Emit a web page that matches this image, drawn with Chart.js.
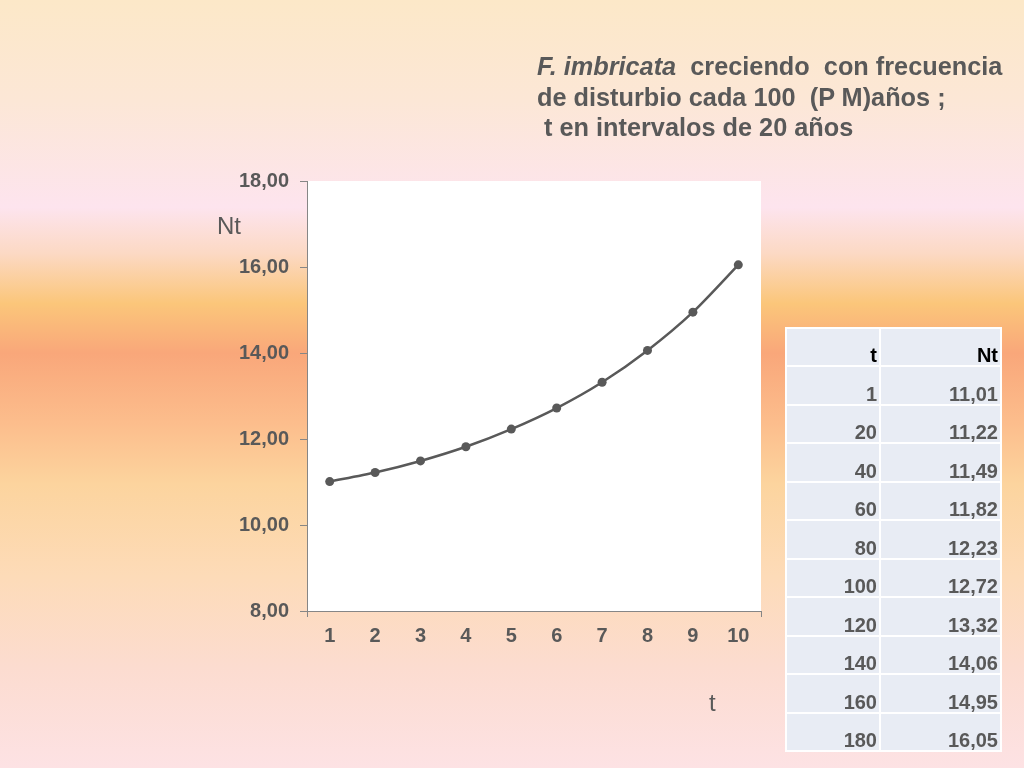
<!DOCTYPE html>
<html>
<head>
<meta charset="utf-8">
<script src="https://cdn.jsdelivr.net/npm/chart.js@4"></script>
<style>
  html, body { margin: 0; padding: 0; }
  body {
    width: 1024px; height: 768px; overflow: hidden; position: relative;
    font-family: "Liberation Sans", Arial, sans-serif;
    background: linear-gradient(to bottom,
      #fce8c8 0%, #fce7d6 13%, #fde4ee 27%, #fcd9c4 33%, #fbc67a 39.5%,
      #f9a77a 46%, #fcbd8c 55%, #fcd49e 63%, #fddbb8 75%, #fcdcd0 87%, #fde2e4 100%);
  }
  #chart { position: absolute; left: 0; top: 0; }
  #title {
    position: absolute; left: 537px; top: 51px; margin: 0;
    font: bold 25.3px "Liberation Sans", Arial, sans-serif; line-height: 30.5px;
    color: #595959; white-space: pre;
  }
  .axlabel { position: absolute; font: 24px "Liberation Sans", Arial, sans-serif; color: #595959; }
  #tbl {
    position: absolute; left: 785px; top: 327px; width: 217px; height: 425px;
    border-collapse: collapse; table-layout: fixed;
  }
  #tbl td {
    background: #e8ecf4; border: 2px solid #ffffff;
    text-align: right; vertical-align: bottom; padding: 0 2px 0 0;
    font: bold 20px "Liberation Sans", Arial, sans-serif; line-height: 19px;
    color: #595959; height: 34px;
  }
  #tbl tr.hd td { color: #000000; }
</style>
</head>
<body>
<canvas id="chart" width="1024" height="768"></canvas>
<div id="title"><i>F. imbricata</i>  creciendo  con frecuencia
de disturbio cada 100  (P M)años ;
 t en intervalos de 20 años</div>
<div class="axlabel" id="ylab" style="left:217px; top:212px;">Nt</div>
<div class="axlabel" id="xlab" style="left:709px; top:689px;">t</div>
<table id="tbl"></table>
<script>
const categories = ['1', '2', '3', '4', '5', '6', '7', '8', '9', '10'];
const ntValues = [11.01, 11.22, 11.49, 11.82, 12.23, 12.72, 13.32, 14.06, 14.95, 16.05];
const tableYears = [1, 20, 40, 60, 80, 100, 120, 140, 160, 180];
const tableHeaders = ['t', 'Nt'];
const yMin = 8, yMax = 18, yStep = 2;

const fmt = v => v.toFixed(2).replace('.', ',');

// table
const tbl = document.getElementById('tbl');
let html = '<tr class="hd"><td style="width:90px">' + tableHeaders[0] + '</td><td>' + tableHeaders[1] + '</td></tr>';
tableYears.forEach((t, i) => {
  html += '<tr><td>' + t + '</td><td>' + fmt(ntValues[i]) + '</td></tr>';
});
tbl.innerHTML = html;

const axisColor = '#868686';
const textColor = '#595959';

const plotBg = {
  id: 'plotBg',
  beforeDraw(chart) {
    const a = chart.chartArea, c = chart.ctx;
    c.save();
    c.fillStyle = '#ffffff';
    c.fillRect(a.left, a.top, a.right - a.left, a.bottom - a.top);
    c.restore();
  }
};

new Chart(document.getElementById('chart'), {
  type: 'line',
  data: {
    labels: categories,
    datasets: [{
      data: ntValues,
      borderColor: '#595959',
      backgroundColor: '#595959',
      borderWidth: 2.5,
      pointRadius: 4.5,
      pointBorderWidth: 0,
      pointBackgroundColor: '#595959',
      tension: 0.25,
      fill: false
    }]
  },
  options: {
    responsive: false,
    animation: false,
    devicePixelRatio: 1,
    layout: { padding: { left: 200, top: 181, right: 263, bottom: 117 } },
    plugins: { legend: { display: false }, tooltip: { enabled: false }, title: { display: false } },
    scales: {
      x: {
        type: 'category',
        offset: true,
        afterFit(scale) { scale.height = 40; },
        border: { display: true, color: axisColor, width: 1 },
        grid: {
          offset: true,
          drawOnChartArea: false,
          drawTicks: true,
          tickLength: 6,
          color: ctx => (ctx.type !== 'tick' || ctx.index === 0) ? axisColor : 'rgba(0,0,0,0)'
        },
        ticks: {
          color: textColor, padding: 7, maxRotation: 0,
          font: { family: '"Liberation Sans", Arial, sans-serif', size: 20, weight: 'bold' }
        }
      },
      y: {
        min: yMin, max: yMax,
        afterFit(scale) { scale.width = 107; },
        border: { display: true, color: axisColor, width: 1 },
        grid: { drawOnChartArea: false, drawTicks: true, tickLength: 7, color: axisColor },
        ticks: {
          stepSize: yStep, color: textColor, padding: 11,
          font: { family: '"Liberation Sans", Arial, sans-serif', size: 20, weight: 'bold' },
          callback: v => fmt(v)
        }
      }
    }
  },
  plugins: [plotBg]
});
</script>
</body>
</html>
